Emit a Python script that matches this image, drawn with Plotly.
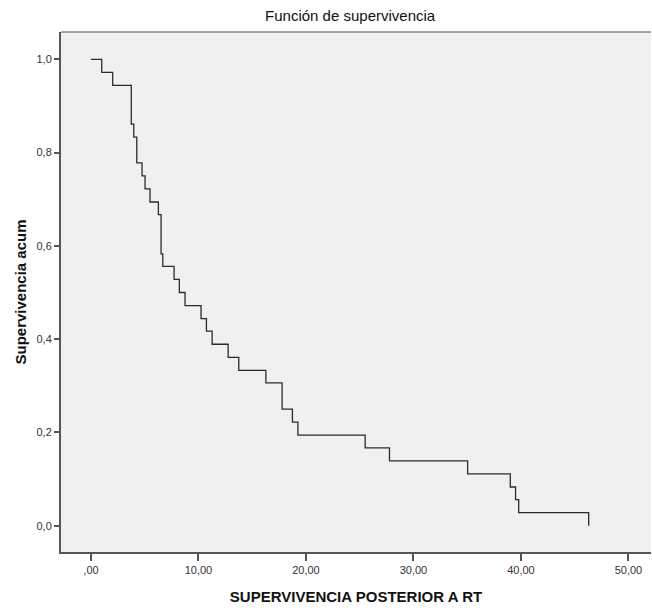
import plotly.graph_objects as go

# Kaplan-Meier step data
times = [0.0, 1.0, 2.02, 3.75, 3.98, 4.26, 4.75, 5.03, 5.49, 6.27, 6.52, 6.68,
         7.73, 8.22, 8.75, 10.24, 10.74, 11.27, 12.76, 13.75, 16.27, 17.78,
         18.74, 19.25, 25.51, 27.77, 35.04, 39.01, 39.5, 39.79, 46.3]
survival = [1.0, 0.972, 0.944, 0.861, 0.833, 0.778, 0.75, 0.722, 0.694, 0.667,
            0.583, 0.556, 0.528, 0.5, 0.472, 0.444, 0.417, 0.389, 0.361, 0.333,
            0.306, 0.25, 0.222, 0.194, 0.167, 0.139, 0.111, 0.083, 0.056, 0.028, 0.0]

x_tickvals = [0, 10, 20, 30, 40, 50]
x_ticktext = [",00", "10,00", "20,00", "30,00", "40,00", "50,00"]
y_tickvals = [0.0, 0.2, 0.4, 0.6, 0.8, 1.0]
y_ticktext = ["0,0", "0,2", "0,4", "0,6", "0,8", "1,0"]

FONT = "Liberation Sans, Arial, sans-serif"

fig = go.Figure()
fig.add_trace(go.Scatter(
    x=times, y=survival, mode="lines", line_shape="hv",
    line=dict(color="#2b2b2b", width=1.3), showlegend=False, hoverinfo="skip"))

fig.update_layout(
    width=652, height=611,
    margin=dict(l=61, r=1, t=32, b=59),
    paper_bgcolor="white", plot_bgcolor="#f0f0f0",
    font=dict(family=FONT, color="#222"),
    title=dict(text="Función de supervivencia", x=0.537, xanchor="center",
               y=1 - 16 / 611, yanchor="middle", yref="container",
               font=dict(size=15, color="#111")),
    xaxis=dict(range=[-2.79, 52.1], tickvals=x_tickvals, ticktext=x_ticktext,
               showgrid=False, zeroline=False, showline=True, linecolor="#555",
               linewidth=2, ticks="outside", ticklen=7, tickwidth=1.5, tickcolor="#555",
               tickfont=dict(size=11, color="#333"),
               title=dict(text="<b>SUPERVIVENCIA POSTERIOR A RT</b>", standoff=16,
                          font=dict(size=15, color="#111"))),
    yaxis=dict(range=[-0.0564, 1.0585], tickvals=y_tickvals, ticktext=y_ticktext,
               showgrid=False, zeroline=False, showline=True, linecolor="#555",
               linewidth=2, ticks="outside", ticklen=5, tickwidth=1.5, tickcolor="#555",
               tickfont=dict(size=11, color="#333"),
               title=dict(text="<b>Supervivencia acum</b>", standoff=6,
                          font=dict(size=15, color="#111"))),
    shapes=[dict(type="line", xref="paper", yref="paper", x0=0, x1=1, y0=1, y1=1,
                 line=dict(color="#888", width=1.5))],
)

fig.write_html("out.html")
